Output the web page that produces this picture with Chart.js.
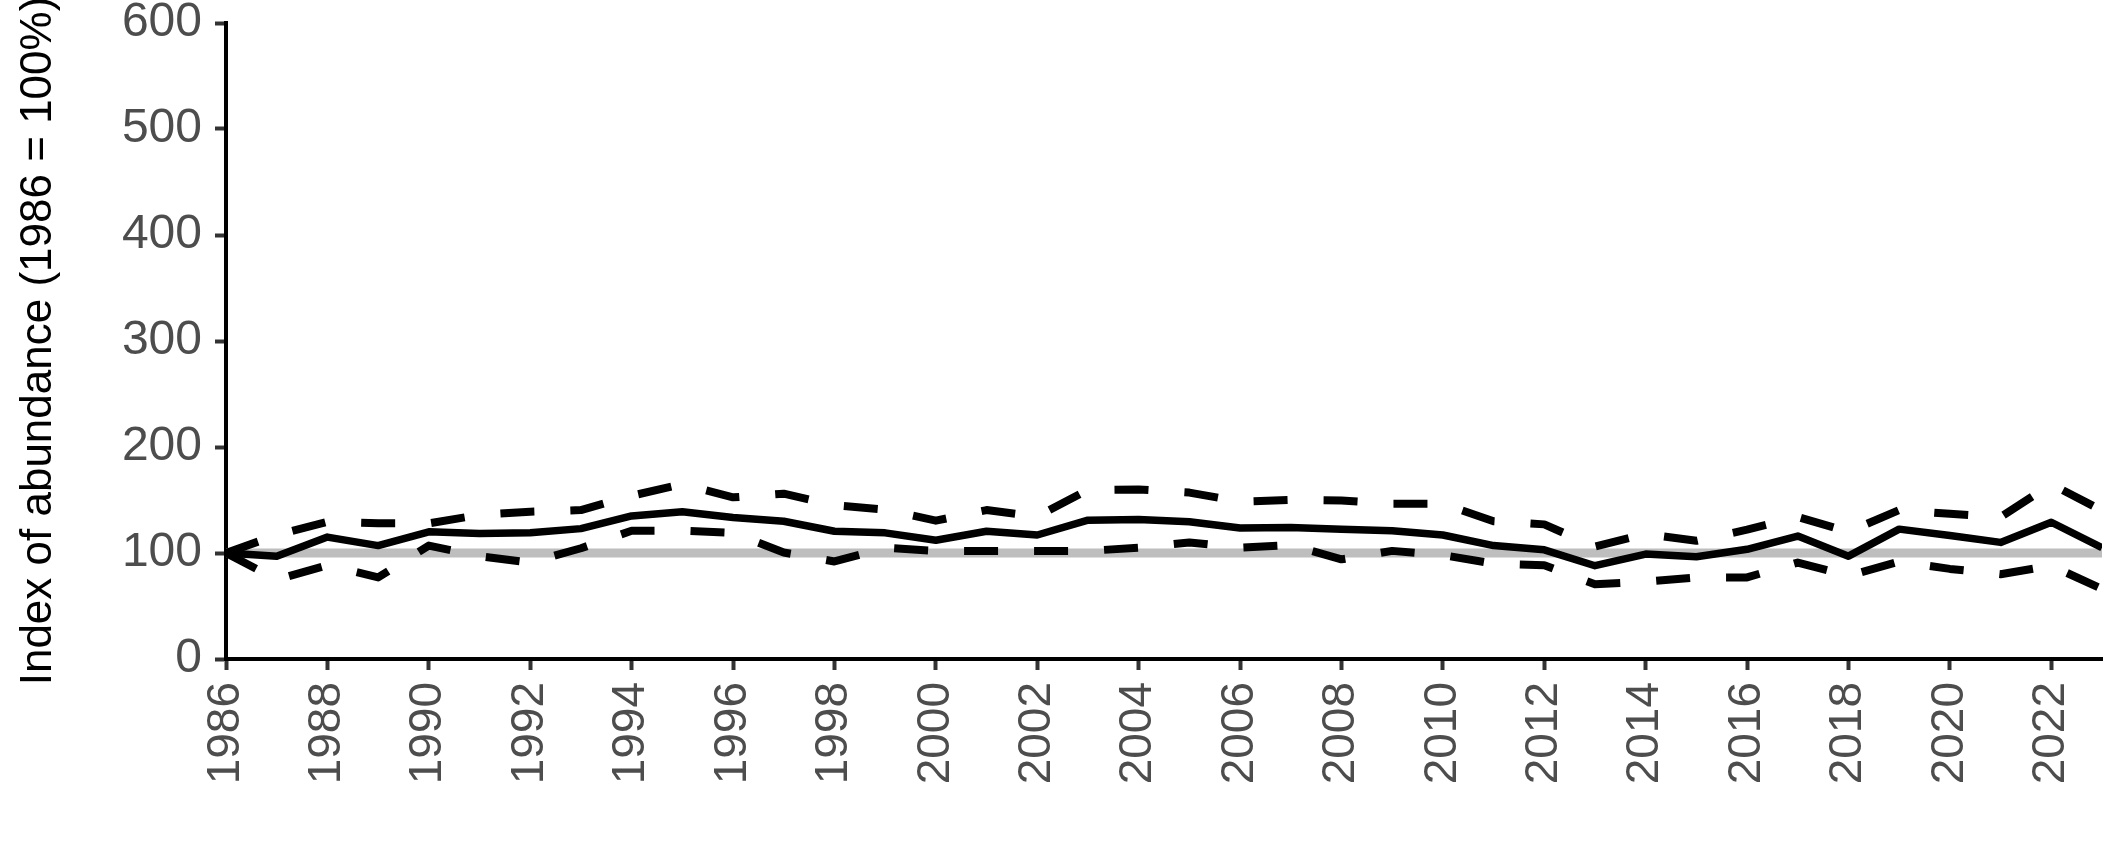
<!DOCTYPE html>
<html><head><meta charset="utf-8">
<script src="https://cdn.jsdelivr.net/npm/chart.js@4"></script>
<style>html,body{margin:0;padding:0;background:#fff}canvas{display:block}</style>
</head><body>
<canvas id="c" width="2127" height="866"></canvas>
<script>
const years = [1986,1987,1988,1989,1990,1991,1992,1993,1994,1995,1996,1997,1998,1999,2000,2001,2002,2003,2004,2005,2006,2007,2008,2009,2010,2011,2012,2013,2014,2015,2016,2017,2018,2019,2020,2021,2022,2023];
const meanIndex = [100,97,115,107,120,118.5,119,123,135,139,133.5,130,120.5,119,112,120.5,117,131,131.5,129.5,123.5,124,122.5,121,117,107,103,88,99,96.5,103.5,116,97,122.5,116.5,110,129,105];
const upperCI = [100,117,129.5,128,128,136,139,140.5,154,165,152.5,156,145,141,130.5,140.5,134.5,159.5,160,157,148.5,150,149.5,146.5,146.5,130,127,106,118,111.5,122,134,120,140.5,137,134,165,140];
const lowerCI = [100,75,88.5,77,107,97,91,104.5,121,121,119,100.5,92,105,102,102,102,102,105,110,105,107.5,94,102,98,90,88.5,70.5,73,77,77,91,78.5,92,85,80,88,66];
const baselineValue = 100;
const yTickValues = [0,100,200,300,400,500,600];
const xTickYears = [1986,1988,1990,1992,1994,1996,1998,2000,2002,2004,2006,2008,2010,2012,2014,2016,2018,2020,2022];
const yAxisTitle = 'Index of abundance (1986 = 100%)';

const pts = arr => years.map((yr, i) => ({x: yr, y: arr[i]}));

Chart.defaults.font.family = "'Liberation Sans', Arial, Helvetica, sans-serif";

new Chart(document.getElementById('c'), {
  type: 'line',
  data: {
    datasets: [
      { data: pts(meanIndex), borderColor: '#000', borderWidth: 7.5, pointRadius: 0, tension: 0, borderJoinStyle: 'round', borderCapStyle: 'butt', order: 1 },
      { data: pts(upperCI), borderColor: '#000', borderWidth: 8, borderDash: [34, 36], pointRadius: 0, tension: 0, borderJoinStyle: 'round', borderCapStyle: 'butt', order: 2 },
      { data: pts(lowerCI), borderColor: '#000', borderWidth: 8, borderDash: [34, 36], pointRadius: 0, tension: 0, borderJoinStyle: 'round', borderCapStyle: 'butt', order: 3 },
      { data: [{x: years[0], y: baselineValue}, {x: years[years.length - 1], y: baselineValue}], borderColor: '#bebebe', borderWidth: 9, pointRadius: 0, order: 10 }
    ]
  },
  options: {
    responsive: false,
    animation: false,
    devicePixelRatio: 1,
    layout: { padding: { top: 23, right: 25, left: 0, bottom: 0 } },
    plugins: { legend: { display: false }, tooltip: { enabled: false } },
    scales: {
      x: {
        type: 'linear', min: 1986, max: 2023,
        afterBuildTicks: s => { s.ticks = xTickYears.map(v => ({value: v})); },
        afterFit: s => { s.height = 207; s.paddingLeft = 0; s.paddingRight = 0; },
        ticks: { callback: v => String(v), minRotation: 90, maxRotation: 90, autoSkip: false, font: { size: 46 }, color: '#4d4d4d', padding: 12 },
        grid: { drawOnChartArea: false, drawTicks: true, tickLength: 11, tickWidth: 4, tickColor: '#333333' },
        border: { display: true, color: '#000', width: 4 }
      },
      y: {
        min: 0, max: 600,
        afterBuildTicks: s => { s.ticks = yTickValues.map(v => ({value: v})); },
        afterFit: s => { s.width = 226; s.paddingTop = 0; s.paddingBottom = 0; },
        ticks: { callback: v => String(v), font: { size: 48 }, color: '#4d4d4d', padding: 13 },
        grid: { drawOnChartArea: false, drawTicks: true, tickLength: 11, tickWidth: 4, tickColor: '#333333' },
        border: { display: true, color: '#000', width: 4 },
        title: { display: true, text: yAxisTitle, font: { size: 44 }, color: '#000', padding: { top: 12, bottom: 0 } }
      }
    }
  }
});
</script>
</body></html>
